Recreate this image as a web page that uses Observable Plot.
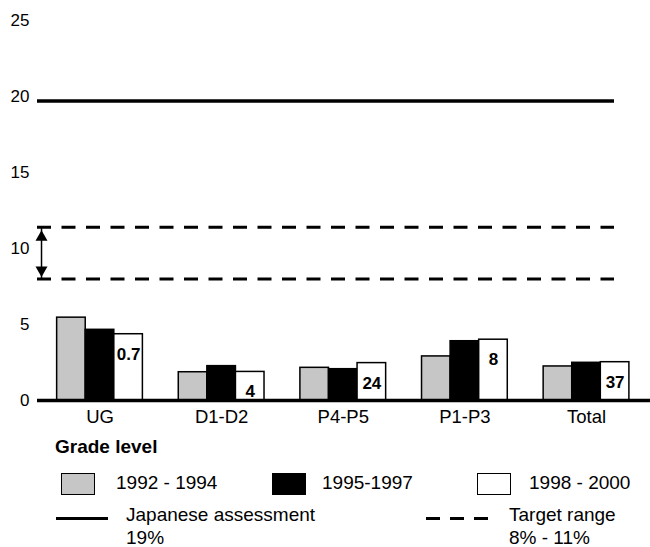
<!DOCTYPE html>
<html><head><meta charset="utf-8">
<script src="https://cdn.jsdelivr.net/npm/d3@7"></script>
<script src="https://cdn.jsdelivr.net/npm/@observablehq/plot@0.6"></script>
<style>
body{margin:0;background:#fff;font-family:"Liberation Sans",Arial,sans-serif;}
#wrap{position:relative;width:650px;height:547px;overflow:hidden;}
#chart{position:absolute;left:0;top:0;}
#chart g[aria-label="x-axis tick label"] text, #chart g[aria-label="x-axis"] text{font-size:18.5px;}
#chart g[aria-label="y-axis tick label"] text, #chart g[aria-label="y-axis"] text{font-size:17px;}
.lg{position:absolute;font-size:19px;line-height:1;color:#000;white-space:nowrap;}
.sw{position:absolute;box-sizing:border-box;border:1.5px solid #000;}
</style></head><body><div id="wrap"><div id="chart"></div></div>
<script>
// ---- data ----
const gradeLevels = ["UG", "D1-D2", "P4-P5", "P1-P3", "Total"];
const periods = ["1992 - 1994", "1995-1997", "1998 - 2000"];
const periodColors = ["#c6c6c6", "#000000", "#ffffff"];
const values1992to1994 = [5.45, 1.86, 2.15, 2.90, 2.24];
const values1995to1997 = [4.65, 2.26, 2.06, 3.90, 2.48];
const values1998to2000 = [4.36, 1.88, 2.46, 4.00, 2.52];
const countLabels = ["0.7", "4", "24", "8", "37"];
const japaneseAssessment = 19.7;
const targetRange = [8.0, 11.4];
const yTicks = [0, 5, 10, 15, 20, 25];
const legendTitle = "Grade level";
const lineLegend = [["Japanese assessment", "19%"], ["Target range", "8% - 11%"]];

// ---- layout (in group-index units of the x scale) ----
const xDomain = [-0.514, 4.526];
const barWidth = 0.235;
const refLineEnd = 4.23;
const arrowX = -0.481;

const seriesValues = [values1992to1994, values1995to1997, values1998to2000];
const bars = [];
seriesValues.forEach((vals, si) => {
  vals.forEach((v, gi) => {
    const x1 = gi + (si - 1.5) * barWidth;
    bars.push({group: gradeLevels[gi], series: periods[si], si, x1, x2: x1 + barWidth, value: v, fill: periodColors[si]});
  });
});
const whiteBars = bars.filter(d => d.si === 2).map((d, i) => ({...d, label: countLabels[i]}));

// arrowhead symbols with the tip at the anchor point
const headUp = {draw(ctx) { ctx.moveTo(0, 0); ctx.lineTo(6, 10.5); ctx.lineTo(-6, 10.5); ctx.closePath(); }};
const headDown = {draw(ctx) { ctx.moveTo(0, 0); ctx.lineTo(6, -10.5); ctx.lineTo(-6, -10.5); ctx.closePath(); }};

const chart = Plot.plot({
  width: 650, height: 430,
  marginTop: 20, marginBottom: 30, marginLeft: 37, marginRight: 0,
  style: {fontFamily: "Liberation Sans, Arial, sans-serif", fontSize: "17px", color: "#000", background: "transparent", overflow: "visible"},
  x: {type: "linear", domain: xDomain, ticks: gradeLevels.map((d, i) => i), tickFormat: i => gradeLevels[i], tickSize: 0, tickPadding: 9, label: null},
  y: {domain: [0, 25], ticks: yTicks, tickSize: 0, tickPadding: 8, label: null},
  marks: [
    Plot.ruleY([japaneseAssessment], {x1: xDomain[0], x2: refLineEnd, stroke: "#000", strokeWidth: 3.5}),
    Plot.ruleY(targetRange, {x1: xDomain[0], x2: refLineEnd, stroke: "#000", strokeWidth: 3, strokeDasharray: "14 10.5"}),
    Plot.link([targetRange], {x1: arrowX, x2: arrowX, y1: d => d[0], y2: d => d[1], stroke: "#000", strokeWidth: 1.5}),
    Plot.dot([targetRange[1]], {x: arrowX, y: d => d, symbol: headUp, fill: "#000", stroke: null, dy: 3}),
    Plot.dot([targetRange[0]], {x: arrowX, y: d => d, symbol: headDown, fill: "#000", stroke: null, dy: -2}),
    Plot.rectY(bars, {x1: "x1", x2: "x2", y1: 0, y2: "value", fill: d => d.fill, stroke: "#000", strokeWidth: 1.5}),
    Plot.text(whiteBars, {x: d => (d.x1 + d.x2) / 2, y: "value", text: "label", dy: 20, fontWeight: "bold", fontSize: 17, fill: "#000"}),
    Plot.ruleY([0], {stroke: "#000", strokeWidth: 3.5})
  ]
});
document.getElementById("chart").appendChild(chart);

// ---- legend below the chart ----
const wrap = document.getElementById("wrap");
function add(tag, cls, css, text) {
  const el = document.createElement(tag);
  el.className = cls;
  Object.assign(el.style, css);
  if (text != null) el.textContent = text;
  wrap.appendChild(el);
  return el;
}
add("div", "lg", {left: "55px", top: "437px", fontWeight: "bold"}, legendTitle);
const swLeft = [61, 272, 477];
const txtLeft = [116, 322, 529];
periods.forEach((p, i) => {
  add("div", "sw", {left: swLeft[i] + "px", top: "473px", width: "34px", height: "22px", background: periodColors[i]});
  add("div", "lg", {left: txtLeft[i] + "px", top: "472.5px"}, p);
});
add("div", "", {position: "absolute", left: "56px", top: "516.5px", width: "52px", height: "3px", background: "#000"});
add("div", "", {position: "absolute", left: "426px", top: "516.5px", width: "62px", height: "3px", background: "repeating-linear-gradient(to right,#000 0 14px,transparent 14px 24px)"});
const lineTxtLeft = [126, 509];
lineLegend.forEach((lines, i) => {
  add("div", "lg", {left: lineTxtLeft[i] + "px", top: "505px"}, lines[0]);
  add("div", "lg", {left: lineTxtLeft[i] + "px", top: "527.5px"}, lines[1]);
});
</script></body></html>
